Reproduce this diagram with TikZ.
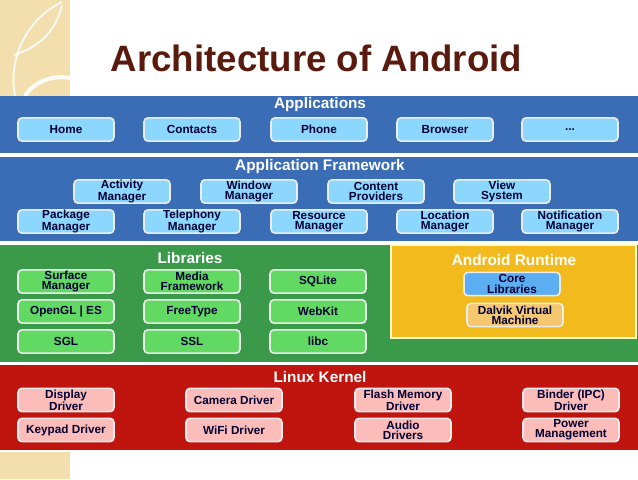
\documentclass[tikz,border=0pt]{standalone}
\usepackage{fontspec}
\setmainfont{Liberation Sans}
\begin{document}
\begin{tikzpicture}[x=0.75pt,y=-0.75pt,
  bx/.style={draw=white!85!gray,line width=1.2pt,rounded corners=3pt,minimum width=72pt,minimum height=17.5pt,inner sep=0pt,align=center,font=\bfseries\fontsize{8.8}{7.6}\selectfont,text=black!80!blue},
  ab/.style={bx,fill=blue!35!cyan!45!white},
  lb/.style={bx,fill=green!55!white!85!black},
  kb/.style={bx,fill=red!25!white!95!brown},
  ttl/.style={font=\bfseries\fontsize{11.5}{12}\selectfont,text=white}]
\useasboundingbox (0,0) rectangle (638,479);
\definecolor{beige}{HTML}{F3DFAE}
\definecolor{bandblue}{HTML}{3A6DB5}
\definecolor{bandgreen}{HTML}{3A9A4A}
\definecolor{bandred}{HTML}{C0150F}
\definecolor{bandyel}{HTML}{F2BA1C}
\definecolor{titlec}{HTML}{5A1A0E}
\definecolor{corec}{HTML}{5CAEF2}
\definecolor{dalc}{HTML}{F5C870}
\fill[beige] (0,0) rectangle (70,96);
\fill[beige] (0,452) rectangle (70,479);
\draw[white,line width=1.2pt] (62,2) .. controls (25,20) and (8,60) .. (15,96);
\draw[white,line width=1.2pt] (14,55) .. controls (35,48) and (55,35) .. (62,5);
\draw[white!90!beige,line width=3pt] (25,96) .. controls (35,80) and (55,75) .. (70,78);
\node[font=\bfseries\fontsize{27.5}{30}\selectfont,text=titlec,anchor=west] (title) at (106,58) {Architecture of Android};
% bands
\fill[bandblue] (0,96) rectangle (638,153);
\fill[bandblue] (0,157) rectangle (638,241);
\fill[bandgreen] (0,245) rectangle (638,362);
\filldraw[fill=bandyel,draw=white!80!yellow,line width=0.8pt] (391,245) rectangle (636,338);
\fill[bandred] (0,365) rectangle (638,450);
\node[ttl] (t1) at (320,105) {Applications};
\node[ttl] (t2) at (320,167) {Application Framework};
\node[ttl] (t3) at (190,258) {Libraries};
\node[ttl] (t4) at (514,260) {Android Runtime};
\node[ttl] (t5) at (320,377) {Linux Kernel};
% applications
\node[ab] (home) at (66,129.5) {Home};
\node[ab] (contacts) at (192,129.5) {Contacts};
\node[ab] (phone) at (319,129.5) {Phone};
\node[ab] (browser) at (445,129.5) {Browser};
\node[ab] (dots) at (570,129.5) {...};
% framework
\node[ab] (act) at (122,191.5) {Activity\\Manager};
\node[ab] (win) at (249,191.5) {Window\\Manager};
\node[ab] (cont) at (376,191.5) {Content\\Providers};
\node[ab] (view) at (502,191.5) {View\\System};
\node[ab] (pack) at (66,221.5) {Package\\Manager};
\node[ab] (tele) at (192,221.5) {Telephony\\Manager};
\node[ab] (res) at (319,221.5) {Resource\\Manager};
\node[ab] (loc) at (445,221.5) {Location\\Manager};
\node[ab] (noti) at (570,221.5) {Notification\\Manager};
% libraries
\node[lb] (surf) at (66,281.5) {Surface\\Manager};
\node[lb] (media) at (192,281.5) {Media\\Framework};
\node[lb] (sql) at (318,281.5) {SQLite};
\node[lb] (ogl) at (66,311.5) {OpenGL | ES};
\node[lb] (ft) at (192,311.5) {FreeType};
\node[lb] (wk) at (318,311.5) {WebKit};
\node[lb] (sgl) at (66,341.5) {SGL};
\node[lb] (ssl) at (192,341.5) {SSL};
\node[lb] (libc) at (318,341.5) {libc};
% runtime
\node[bx,fill=corec] (core) at (512,284) {Core\\Libraries};
\node[bx,fill=dalc] (dalvik) at (515,315) {Dalvik Virtual\\Machine};
% kernel
\node[kb] (disp) at (66,400) {Display\\Driver};
\node[kb] (key) at (66,430) {Keypad Driver};
\node[kb] (cam) at (234,400) {Camera Driver};
\node[kb] (wifi) at (234,430) {WiFi Driver};
\node[kb] (flash) at (403,400) {Flash Memory\\Driver};
\node[kb] (audio) at (403,430) {Audio\\Drivers};
\node[kb] (binder) at (571,400) {Binder (IPC)\\Driver};
\node[kb] (power) at (571,430) {Power\\Management};
\end{tikzpicture}
\end{document}
